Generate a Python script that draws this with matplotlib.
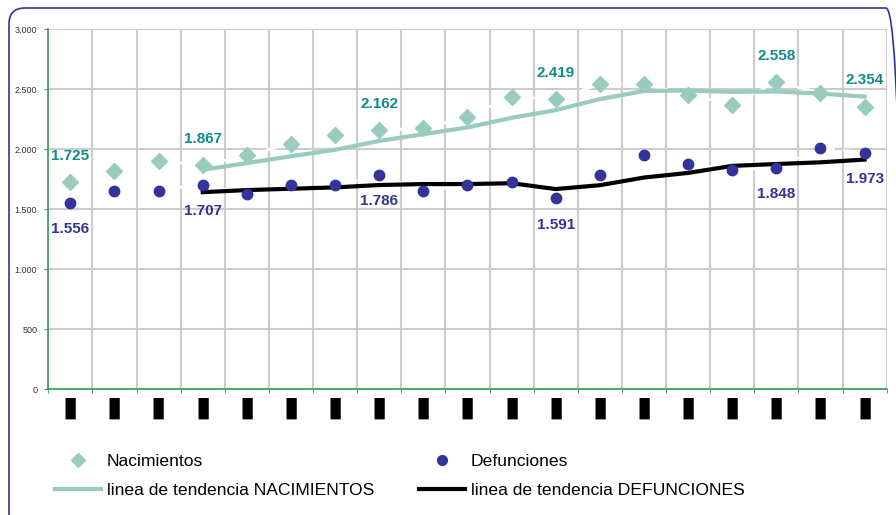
import matplotlib
matplotlib.use("Agg")
import matplotlib.pyplot as plt
import numpy as np
import pandas as pd
from matplotlib.lines import Line2D
from matplotlib.patches import FancyBboxPatch

plt.rcParams['font.family'] = ['Liberation Sans', 'DejaVu Sans']

# 19 periods, original labels are blacked out in the reference
categories = [f"P{i + 1}" for i in range(19)]
tick_labels = ["\u25AE"] * 19

nacimientos = [1725, 1820, 1905, 1867, 1950, 2048, 2120, 2162, 2176, 2273,
               2440, 2419, 2543, 2543, 2455, 2373, 2558, 2473, 2354]
defunciones = [1556, 1655, 1655, 1707, 1625, 1700, 1700, 1786, 1657, 1700,
               1728, 1591, 1786, 1955, 1882, 1826, 1848, 2012, 1973]
labelled = [0, 3, 7, 11, 16, 18]

NAC_COLOR = "#99CCBE"
DEF_COLOR = "#333399"
NAC_TEXT = "#128A86"
GRID = "#CCCCCC"
AXIS_GREEN = "#3A9A5C"

# Excel style 4-period moving average trend lines
nac_trend = pd.Series(nacimientos).rolling(4).mean()
def_trend = pd.Series(defunciones).rolling(4).mean()

fig = plt.figure(figsize=(8.96, 5.15), dpi=100)
ax = fig.add_axes([0.0539, 0.244, 0.9357, 0.699])

x = np.arange(len(categories))

ax.plot(x, nacimientos, color="white", lw=2, ls=(0, (6, 3)), zorder=2)
ax.plot(x, defunciones, color="white", lw=2, ls=(0, (6, 3)), zorder=2)
ax.plot(x, nac_trend, color=NAC_COLOR, lw=3, zorder=3)
ax.plot(x, def_trend, color="black", lw=3, zorder=3)
ax.plot(x, nacimientos, ls="none", marker="D", ms=8, color=NAC_COLOR, zorder=4)
ax.plot(x, defunciones, ls="none", marker="o", ms=7.5, color=DEF_COLOR, zorder=4)

for i in labelled:
    ax.annotate(f"{nacimientos[i]:,}".replace(",", "."), (x[i], nacimientos[i]),
                xytext=(0, 19), textcoords="offset points", ha="center", va="center",
                fontsize=11, fontweight="bold", color=NAC_TEXT, zorder=5)
    ax.annotate(f"{defunciones[i]:,}".replace(",", "."), (x[i], defunciones[i]),
                xytext=(0, -19), textcoords="offset points", ha="center", va="center",
                fontsize=11, fontweight="bold", color=DEF_COLOR, zorder=5)

ax.set_xlim(-0.5, len(categories) - 0.5)
ax.set_ylim(0, 3000)
ax.set_yticks(np.arange(0, 3001, 500))
ax.set_yticklabels([f"{v:,}".replace(",", ".") for v in range(0, 3001, 500)],
                   fontsize=6.5, color="#333333")
ax.set_xticks(x)
ax.set_xticklabels(tick_labels, fontsize=20, color="black", family="DejaVu Sans")
ax.set_xticks(np.arange(-0.5, len(categories)), minor=True)
ax.tick_params(axis="x", which="major", length=0, pad=3)
ax.tick_params(axis="x", which="minor", length=3, color=AXIS_GREEN, direction="out")
ax.tick_params(axis="y", length=3, color=AXIS_GREEN, pad=5)

ax.grid(True, axis="y", color=GRID, lw=1.5, zorder=0)
ax.grid(True, axis="x", which="minor", color=GRID, lw=1.5, zorder=0)
ax.set_axisbelow(True)
for side in ["top", "right"]:
    ax.spines[side].set_visible(False)
for side in ["left", "bottom"]:
    ax.spines[side].set_color(AXIS_GREEN)
    ax.spines[side].set_linewidth(1.2)

handles = [
    Line2D([], [], ls="none", marker="D", ms=7, color=NAC_COLOR),
    Line2D([], [], color=NAC_COLOR, lw=3),
    Line2D([], [], ls="none", marker="o", ms=7, color=DEF_COLOR),
    Line2D([], [], color="black", lw=3),
]
names = ["Nacimientos", "linea de tendencia NACIMIENTOS",
         "Defunciones", "linea de tendencia DEFUNCIONES"]
fig.legend(handles, names, ncol=2, loc="upper left", bbox_to_anchor=(0.0614, 0.118),
           frameon=False, fontsize=12.6, handlelength=2.6, handletextpad=0.35,
           columnspacing=2.6, labelspacing=0.75, borderpad=0, borderaxespad=0)

# rounded frame in inches: left 9px, top 8px, runs off the bottom edge
border = FancyBboxPatch((0.09, -0.15), 8.93, 5.22, transform=fig.dpi_scale_trans,
                        boxstyle="round,pad=0,rounding_size=0.16",
                        fill=False, ec=DEF_COLOR, lw=1.2)
fig.patches.append(border)

fig.savefig("out.png", dpi=100)
